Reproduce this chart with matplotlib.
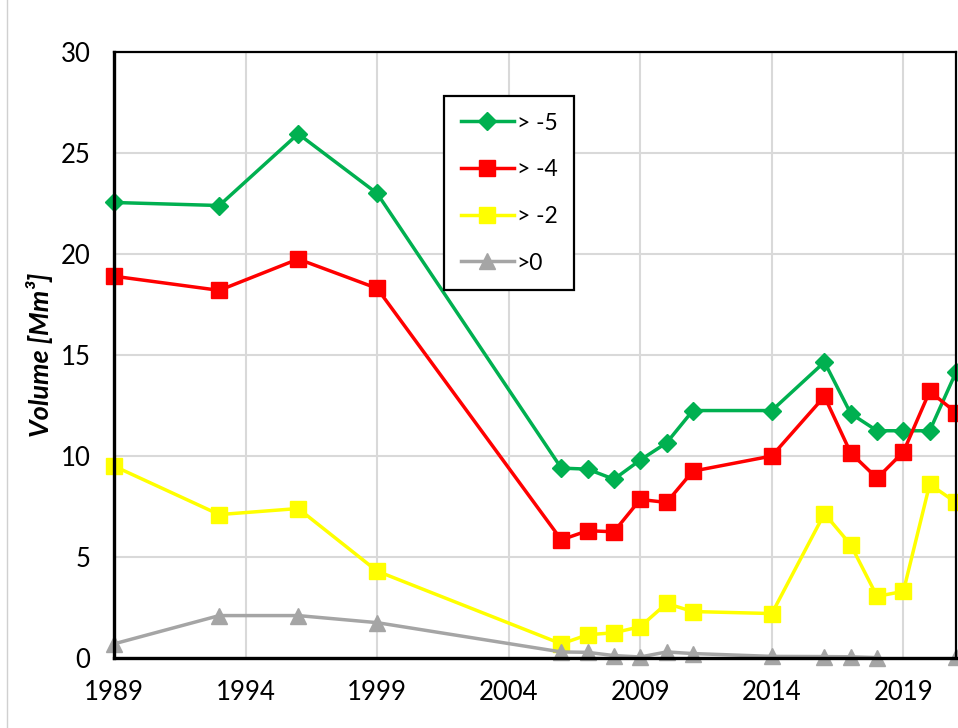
import numpy as np
import matplotlib
matplotlib.use('Agg')
import matplotlib.pyplot as plt
from matplotlib.lines import Line2D

plt.rcParams['font.family'] = ['Lato', 'DejaVu Sans']

# survey years and volumes above each depth contour (Mm3)
years = [1989, 1993, 1996, 1999, 2006, 2007, 2008, 2009, 2010, 2011,
         2014, 2016, 2017, 2018, 2019, 2020, 2021]
vol_m5 = [22.55, 22.4, 25.95, 23.0, 9.4, 9.35, 8.85, 9.8, 10.65, 12.25,
          12.25, 14.65, 12.1, 11.25, 11.25, 11.25, 14.15]
vol_m4 = [18.9, 18.2, 19.75, 18.3, 5.85, 6.3, 6.25, 7.85, 7.7, 9.25,
          10.0, 12.95, 10.15, 8.9, 10.2, 13.2, 12.15]
vol_m2 = [9.5, 7.1, 7.4, 4.3, 0.7, 1.15, 1.25, 1.55, 2.7, 2.3,
          2.2, 7.15, 5.6, 3.05, 3.3, 8.6, 7.7]
vol_0 = [0.7, 2.1, 2.1, 1.75, 0.3, 0.28, 0.12, 0.05, 0.3, 0.22,
         0.08, 0.07, 0.06, 0.02, np.nan, np.nan, 0.06]

series = [
    ('> -5', vol_m5, '#00b050', 'D', 9),
    ('> -4', vol_m4, '#ff0000', 's', 11.5),
    ('> -2', vol_m2, '#ffff00', 's', 11.5),
    ('>0', vol_0, '#a5a5a5', '^', 11),
]

fig = plt.figure(figsize=(9.58, 7.28), dpi=100)
ax = fig.add_axes([114 / 958, 70 / 728, 842 / 958, 606 / 728])

for label, vals, color, marker, ms in series:
    ax.plot(years, vals, color=color, lw=2.5, marker=marker, ms=ms,
            label=label, clip_on=False)

ax.set_xlim(1989, 2021)
ax.set_ylim(0, 30)
ax.set_xticks(range(1989, 2021, 5))
ax.set_yticks(range(0, 31, 5))
ax.tick_params(axis='both', length=0, labelsize=18.5)
ax.tick_params(axis='y', pad=17)
ax.tick_params(axis='x', pad=16)
ax.grid(True, color='#d9d9d9', lw=1.5)
ax.set_axisbelow(True)

for side in ['left', 'bottom']:
    ax.spines[side].set_linewidth(2.4)
for side in ['top', 'right']:
    ax.spines[side].set_linewidth(1.6)

ax.set_ylabel('Volume [Mm³]', fontsize=19.5, fontweight='bold',
              fontstyle='italic', labelpad=5)

leg = ax.legend(loc='upper left', bbox_to_anchor=(444 / 958, 1 - 96 / 728),
                bbox_transform=fig.transFigure, fontsize=16.5, frameon=True,
                fancybox=False, edgecolor='black', framealpha=1,
                handlelength=2.35, handletextpad=0.1, labelspacing=1.12,
                borderpad=0.72, borderaxespad=0)
leg.get_frame().set_linewidth(1.6)

# thin border on the left side of the chart area
fig.add_artist(Line2D([7 / 958, 7 / 958], [0, 1], color='#d0d0d0', lw=1))

fig.savefig('out.png', dpi=100)
